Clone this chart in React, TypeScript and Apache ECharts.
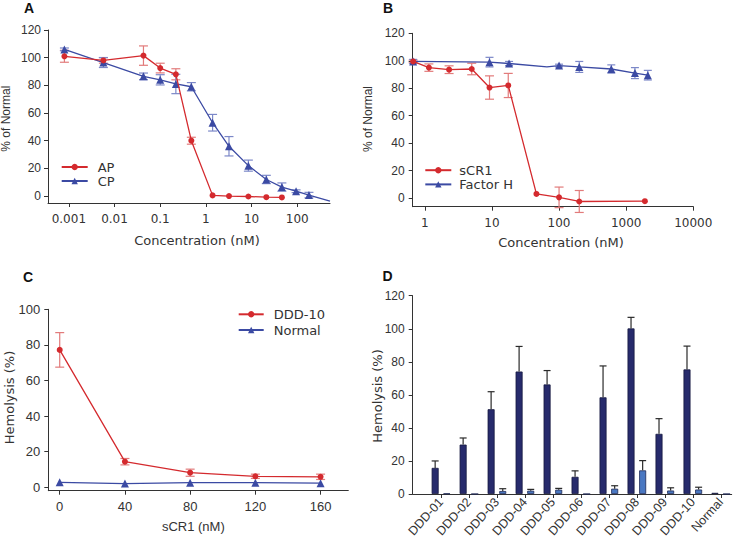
import React, { useEffect, useRef } from 'react';
import * as echarts from 'echarts';

// ---------- Panel A ----------
const concA = [0.0008, 0.0057, 0.043, 0.1, 0.22, 0.48, 1.4, 3.2, 8.5, 21, 46, 94, 180];
const apValues = [101, 98, 101.5, 92.5, 88, 40, 0.5, 0, -0.3, -0.8, -1];
const apErr = [4.3, 2, 7, 3.5, 4, 2.5, 0, 0, 0, 0, 0];
const cpValues = [106, 96.5, 86.5, 84, 81, 79, 53, 36, 22, 12, 6.5, 3.5, 0.7];
const cpErr = [1, 3.6, 2.4, 3.7, 7, 3, 6, 7, 4, 3, 3, 1, 2];
const cpCurveEnd = [520, -3.6];
const xTicksA = [0.001, 0.01, 0.1, 1, 10, 100];
const yTicksAB = [0, 20, 40, 60, 80, 100, 120];

// ---------- Panel B ----------
const concB = [0.67, 1.15, 2.3, 5, 9.2, 17.5, 46, 100, 200, 1900];
const scr1Values = [99.5, 95, 93.5, 94, 80.5, 82, 3, 0.5, -2.5, -2.3];
const scr1Err = [1, 2.7, 2.8, 4.2, 8.5, 8.8, 0, 7.5, 8, 0];
const concFH = [0.67, 9.2, 18, 100, 200, 600, 1350, 2100];
const fhValues = [99.5, 99, 98, 96.5, 95.5, 94, 91, 89.5];
const fhErr = [1.5, 3.5, 1.5, 1, 4, 3, 4, 3.5];
const fhCurveBend = [66, 95.5];
const xTicksB = [1, 10, 100, 1000, 10000];

// ---------- Panel C ----------
const scr1C = [0, 40, 80, 120, 160];
const ddd10Values = [77.2, 14.4, 8.2, 6.2, 5.9];
const ddd10Err = [9.7, 1.8, 2, 1.2, 1.5];
const normalValues = [2.8, 2.1, 2.6, 2.6, 2.3];
const yTicksC = [0, 20, 40, 60, 80, 100];

// ---------- Panel D ----------
const categoriesD = ['DDD-01', 'DDD-02', 'DDD-03', 'DDD-04', 'DDD-05', 'DDD-06', 'DDD-07', 'DDD-08', 'DDD-09', 'DDD-10', 'Normal'];
const darkValues = [15.8, 29.9, 51.3, 74.1, 66.3, 10.4, 58.5, 100.2, 36.4, 75.4, 0.7];
const darkErr = [4.2, 4, 10.6, 15.2, 8.4, 3.6, 19, 6.7, 9.2, 14.1, 0];
const lightValues = [0.3, 0, 1.8, 2, 2.6, 0, 3.2, 14.3, 2.1, 2.7, 0];
const lightErr = [0, 0, 1.4, 0.8, 0.8, 0, 1.8, 5.9, 1.65, 1.4, 0];
const yTicksD = [0, 20, 40, 60, 80, 100, 120];

const RED = '#d42a2e';
const BLUE = '#3b4aa3';
const RED_ERR = '#e27b7b';
const BLUE_ERR = '#7c88c8';
const TXT = '#333';
const SANS = 'Liberation Sans, Arial, sans-serif';
const WIDE = 'DejaVu Sans, sans-serif';

function errRender(color: string, capHalf: number, oneSided: boolean, dx: number) {
  return (params: any, api: any) => {
    const x = api.value(0);
    const y = api.value(1);
    const e = api.value(2);
    const c = api.coord([x, y]);
    const t = api.coord([x, y + e]);
    const b = oneSided ? c : api.coord([x, y - e]);
    const px = c[0] + dx;
    const st = { stroke: color, lineWidth: 1.2 };
    const children: any[] = [
      { type: 'line', shape: { x1: px, y1: t[1], x2: px, y2: b[1] }, style: st },
      { type: 'line', shape: { x1: px - capHalf, y1: t[1], x2: px + capHalf, y2: t[1] }, style: st },
    ];
    if (!oneSided) {
      children.push({ type: 'line', shape: { x1: px - capHalf, y1: b[1], x2: px + capHalf, y2: b[1] }, style: st });
    }
    return { type: 'group', children };
  };
}

function errData(xs: number[], ys: number[], es: number[]) {
  const out: number[][] = [];
  ys.forEach((y, i) => {
    if (es[i] > 0) out.push([xs[i], y, es[i]]);
  });
  return out;
}

function fmtNum(v: number, list: number[]) {
  let best = list[0];
  list.forEach((t) => {
    if (Math.abs(Math.log10(t) - Math.log10(v)) < Math.abs(Math.log10(best) - Math.log10(v))) best = t;
  });
  return String(best);
}

const axisLineStyle = { show: true, onZero: false, lineStyle: { color: TXT, width: 1 } };
const tickStyle = { lineStyle: { color: TXT, width: 1 }, length: 4 };

export default function App() {
  const ref = useRef<HTMLDivElement>(null);
  useEffect(() => {
    if (!ref.current) return;
    const chart = echarts.init(ref.current, undefined, { renderer: 'svg' });

    const cpLine: any[] = concA.map((c, i) => [c, cpValues[i]]);
    cpLine.push({ value: cpCurveEnd, symbol: 'none' });
    const fhLine: any[] = concFH.map((c, i) => [c, fhValues[i]]);
    fhLine.push({ value: fhCurveBend, symbol: 'none' });
    fhLine.sort((a: any, b: any) => (Array.isArray(a) ? a[0] : a.value[0]) - (Array.isArray(b) ? b[0] : b.value[0]));

    const legendText = { fontFamily: WIDE, fontSize: 13, color: TXT };

    const option: any = {
      animation: false,
      grid: [
        { left: 48, top: 30, width: 282, height: 173 },
        { left: 412.7, top: 33.3, width: 280.6, height: 173.4 },
        { left: 48.3, top: 309.3, width: 300, height: 181.4 },
        { left: 412.7, top: 295.7, width: 319, height: 198.3 },
      ],
      xAxis: [
        {
          type: 'log', gridIndex: 0, min: 0.00035, max: 520, logBase: 10,
          axisLine: axisLineStyle, axisTick: { ...tickStyle, customValues: xTicksA },
          axisLabel: { customValues: xTicksA, color: TXT, fontFamily: WIDE, fontSize: 12, margin: 10, formatter: (v: number) => fmtNum(v, xTicksA) },
          splitLine: { show: false }, minorTick: { show: false },
        },
        {
          type: 'log', gridIndex: 1, min: 0.66, max: 10000, logBase: 10,
          axisLine: axisLineStyle, axisTick: { ...tickStyle, customValues: xTicksB },
          axisLabel: { customValues: xTicksB, color: TXT, fontFamily: WIDE, fontSize: 12, margin: 10, formatter: (v: number) => fmtNum(v, xTicksB) },
          splitLine: { show: false },
        },
        {
          type: 'value', gridIndex: 2, min: -7, max: 177,
          axisLine: axisLineStyle, axisTick: { ...tickStyle, customValues: scr1C },
          axisLabel: { customValues: scr1C, color: TXT, fontFamily: SANS, fontSize: 13, margin: 9 },
          splitLine: { show: false },
        },
        {
          type: 'value', gridIndex: 3, min: -1.01, max: 10.39,
          axisLine: axisLineStyle,
          axisTick: { ...tickStyle, customValues: categoriesD.map((_, i) => i) },
          axisLabel: {
            customValues: categoriesD.map((_, i) => i), rotate: 48, color: TXT, fontFamily: SANS, fontSize: 12.5, margin: 6,
            formatter: (v: number) => categoriesD[Math.round(v)] ?? '',
          },
          splitLine: { show: false },
        },
      ],
      yAxis: [
        {
          type: 'value', gridIndex: 0, min: -5, max: 120,
          axisLine: axisLineStyle, axisTick: { show: true, ...tickStyle, customValues: yTicksAB },
          axisLabel: { customValues: yTicksAB, color: TXT, fontFamily: SANS, fontSize: 12, margin: 7 },
          splitLine: { show: false },
        },
        {
          type: 'value', gridIndex: 1, min: -6.3, max: 120,
          axisLine: axisLineStyle, axisTick: { show: true, ...tickStyle, customValues: yTicksAB },
          axisLabel: { customValues: yTicksAB, color: TXT, fontFamily: SANS, fontSize: 12, margin: 8 },
          splitLine: { show: false },
        },
        {
          type: 'value', gridIndex: 2, min: -1.9, max: 100,
          axisLine: axisLineStyle, axisTick: { show: true, ...tickStyle, customValues: yTicksC },
          axisLabel: { customValues: yTicksC, color: TXT, fontFamily: SANS, fontSize: 13, margin: 8 },
          splitLine: { show: false },
        },
        {
          type: 'value', gridIndex: 3, min: 0, max: 120,
          axisLine: axisLineStyle, axisTick: { show: true, ...tickStyle, customValues: yTicksD },
          axisLabel: { customValues: yTicksD, color: TXT, fontFamily: SANS, fontSize: 12, margin: 8 },
          splitLine: { show: false },
        },
      ],
      legend: [
        {
          data: ['AP', 'CP'], orient: 'vertical', left: 60.7, top: 160.5, padding: 0, itemWidth: 26, itemHeight: 8, itemGap: 1,
          textStyle: { ...legendText, padding: [0, 0, 0, 5] },
        },
        {
          data: ['sCR1', 'Factor H'], orient: 'vertical', left: 424.3, top: 163.7, padding: 0, itemWidth: 26, itemHeight: 8, itemGap: 1.2,
          textStyle: { ...legendText, padding: [0, 0, 0, 3] },
        },
        {
          data: ['DDD-10', 'Normal'], orient: 'vertical', left: 237.7, top: 307.8, padding: 0, itemWidth: 25, itemHeight: 8, itemGap: 2.7,
          textStyle: { ...legendText, padding: [0, 0, 0, 5] },
        },
      ],
      series: [
        // A
        { type: 'custom', name: 'AP err', xAxisIndex: 0, yAxisIndex: 0, renderItem: errRender(RED_ERR, 4.5, false, 0), data: errData(concA, apValues, apErr), z: 1 },
        { type: 'custom', name: 'CP err', xAxisIndex: 0, yAxisIndex: 0, renderItem: errRender(BLUE_ERR, 4.5, false, 0), data: errData(concA, cpValues, cpErr), z: 1 },
        {
          type: 'line', name: 'AP', xAxisIndex: 0, yAxisIndex: 0, data: apValues.map((v, i) => [concA[i], v]),
          symbol: 'circle', symbolSize: 6, itemStyle: { color: RED }, lineStyle: { color: RED, width: 1.3 }, z: 3,
        },
        {
          type: 'line', name: 'CP', xAxisIndex: 0, yAxisIndex: 0, data: cpLine,
          symbol: 'triangle', symbolSize: 8, itemStyle: { color: BLUE }, lineStyle: { color: BLUE, width: 1.3 }, z: 2,
        },
        // B
        { type: 'custom', name: 'sCR1 err', xAxisIndex: 1, yAxisIndex: 1, renderItem: errRender(RED_ERR, 4.5, false, 0), data: errData(concB, scr1Values, scr1Err), z: 1 },
        { type: 'custom', name: 'FH err', xAxisIndex: 1, yAxisIndex: 1, renderItem: errRender(BLUE_ERR, 4, false, 0), data: errData(concFH, fhValues, fhErr), z: 1 },
        {
          type: 'line', name: 'sCR1', xAxisIndex: 1, yAxisIndex: 1, data: scr1Values.map((v, i) => [concB[i], v]),
          symbol: 'circle', symbolSize: 6, itemStyle: { color: RED }, lineStyle: { color: RED, width: 1.3 }, z: 3,
        },
        {
          type: 'line', name: 'Factor H', xAxisIndex: 1, yAxisIndex: 1, data: fhLine,
          symbol: 'triangle', symbolSize: 8, itemStyle: { color: BLUE }, lineStyle: { color: BLUE, width: 1.3 }, z: 2,
        },
        // C
        { type: 'custom', name: 'DDD-10 err', xAxisIndex: 2, yAxisIndex: 2, renderItem: errRender(RED_ERR, 4.5, false, 0), data: errData(scr1C, ddd10Values, ddd10Err), z: 1 },
        {
          type: 'line', name: 'DDD-10', xAxisIndex: 2, yAxisIndex: 2, data: ddd10Values.map((v, i) => [scr1C[i], v]),
          symbol: 'circle', symbolSize: 6, itemStyle: { color: RED }, lineStyle: { color: RED, width: 1.3 }, z: 3,
        },
        {
          type: 'line', name: 'Normal', xAxisIndex: 2, yAxisIndex: 2, data: normalValues.map((v, i) => [scr1C[i], v]),
          symbol: 'triangle', symbolSize: 8, itemStyle: { color: BLUE }, lineStyle: { color: BLUE, width: 1.3 }, z: 2,
        },
        // D
        {
          type: 'bar', name: 'Hemolysis', xAxisIndex: 3, yAxisIndex: 3, data: darkValues.map((v, i) => [i, v]),
          barWidth: 7, barGap: '66%', itemStyle: { color: '#272b6c', borderColor: '#15183f', borderWidth: 0.8 },
        },
        {
          type: 'bar', name: 'Hemolysis + sCR1', xAxisIndex: 3, yAxisIndex: 3, data: lightValues.map((v, i) => [i, v]),
          barWidth: 7, barGap: '66%', itemStyle: { color: '#4a78c2', borderColor: '#1f2a55', borderWidth: 0.8 },
        },
        { type: 'custom', name: 'dark err', xAxisIndex: 3, yAxisIndex: 3, renderItem: errRender('#2a2a2a', 3.5, true, -5.81), data: errData(categoriesD.map((_, i) => i), darkValues, darkErr), z: 3 },
        { type: 'custom', name: 'light err', xAxisIndex: 3, yAxisIndex: 3, renderItem: errRender('#2a2a2a', 3.5, true, 5.81), data: errData(categoriesD.map((_, i) => i), lightValues, lightErr), z: 3 },
      ],
      graphic: [
        { type: 'text', x: 29, y: 8, style: { text: 'A', font: 'bold 14px Liberation Sans, Arial', fill: '#111', align: 'center', verticalAlign: 'middle' } },
        { type: 'text', x: 388, y: 8, style: { text: 'B', font: 'bold 14px Liberation Sans, Arial', fill: '#111', align: 'center', verticalAlign: 'middle' } },
        { type: 'text', x: 28, y: 277, style: { text: 'C', font: 'bold 14px Liberation Sans, Arial', fill: '#111', align: 'center', verticalAlign: 'middle' } },
        { type: 'text', x: 387.5, y: 276, style: { text: 'D', font: 'bold 14px Liberation Sans, Arial', fill: '#111', align: 'center', verticalAlign: 'middle' } },
        { type: 'text', x: 6, y: 118.7, rotation: Math.PI / 2, style: { text: '% of Normal', font: '12px Liberation Sans, Arial', fill: TXT, align: 'center', verticalAlign: 'middle' } },
        { type: 'text', x: 197, y: 240, style: { text: 'Concentration (nM)', font: '13px DejaVu Sans', fill: TXT, align: 'center', verticalAlign: 'middle' } },
        { type: 'text', x: 368, y: 119, rotation: Math.PI / 2, style: { text: '% of Normal', font: '12px Liberation Sans, Arial', fill: TXT, align: 'center', verticalAlign: 'middle' } },
        { type: 'text', x: 561, y: 242, style: { text: 'Concentration (nM)', font: '13px DejaVu Sans', fill: TXT, align: 'center', verticalAlign: 'middle' } },
        { type: 'text', x: 9, y: 397.5, rotation: Math.PI / 2, style: { text: 'Hemolysis (%)', font: '13px DejaVu Sans', fill: TXT, align: 'center', verticalAlign: 'middle' } },
        { type: 'text', x: 193.3, y: 526, style: { text: 'sCR1 (nM)', font: '13px Liberation Sans, Arial', fill: TXT, align: 'center', verticalAlign: 'middle' } },
        { type: 'text', x: 377, y: 396, rotation: Math.PI / 2, style: { text: 'Hemolysis (%)', font: '13px DejaVu Sans', fill: TXT, align: 'center', verticalAlign: 'middle' } },
      ],
    };
    chart.setOption(option);
    return () => chart.dispose();
  }, []);
  return <div ref={ref} style={{ position: 'absolute', left: 0, top: 0, width: 733, height: 552, background: '#fff' }} />;
}
